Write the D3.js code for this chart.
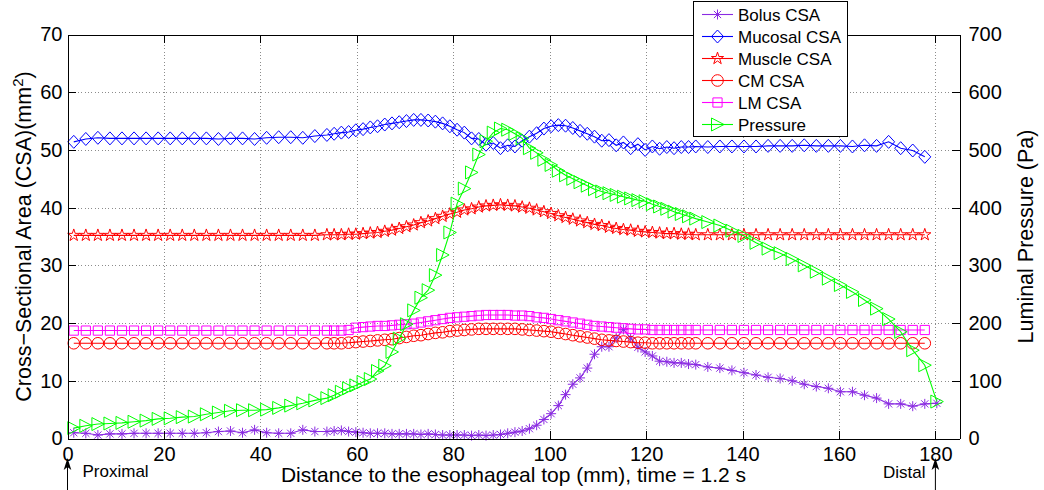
<!DOCTYPE html>
<html><head><meta charset="utf-8">
<script src="https://cdn.jsdelivr.net/npm/d3@7"></script>
<style>
body{margin:0;background:#fff;}
svg{display:block;font-family:"Liberation Sans",Arial,Helvetica,sans-serif;}
</style>
</head><body>
<svg id="chart" width="1044" height="490"></svg>
<script>
// ---------- DATA ----------
const distance = [1.3, 3.8, 6.3, 8.8, 11.3, 13.8, 16.3, 18.8, 21.3, 23.8, 26.3, 28.8, 31.3, 33.8, 36.3, 38.8, 41.3, 43.8, 46.3, 48.8, 51.3, 53.8,
  55.3, 56.8, 58.3, 59.8, 61.3, 62.8, 64.3, 65.8, 67.3, 68.8, 70.3, 71.8, 73.3, 74.8, 76.3, 77.8, 79.3, 80.8, 82.3, 83.8, 85.3, 86.8, 88.3, 89.8,
  91.3, 92.8, 94.3, 95.8, 97.3, 98.8, 100.3, 101.8, 103.3, 104.8, 106.3, 107.8, 109.3, 110.8, 112.3, 113.8, 115.3, 116.8, 118.3, 119.8, 121.3,
  122.8, 124.3, 125.8, 127.3, 128.8, 130.3,
  132.8, 135.3, 137.8, 140.3, 142.8, 145.3, 147.8, 150.3, 152.8, 155.3, 157.8, 160.3, 162.8, 165.3, 167.8, 170.3, 172.8, 175.3, 177.8];
const distanceEnd = [180.3]; // extra node for bolus and pressure

const mucosalCSA = [51.4, 51.9, 52.1, 52.0, 52.0, 52.0, 52.0, 52.0, 52.0, 52.0, 52.0, 52.0, 51.9, 52.0, 52.0, 51.9, 52.1, 52.2, 52.2, 52.1, 52.4, 52.6,
  52.8, 53.0, 53.1, 53.4, 53.6, 53.9, 54.1, 54.4, 54.6, 54.8, 55.0, 55.2, 55.2, 55.1, 54.9, 54.6, 54.1, 53.5, 53.0, 52.0, 51.9, 50.9, 51.2, 50.3,
  50.8, 50.6, 51.6, 52.3, 52.9, 53.7, 54.1, 54.3, 54.2, 53.8, 53.3, 52.8, 52.3, 51.6, 51.7, 50.8, 51.3, 50.3, 51.0, 50.0, 50.6,
  50.2, 50.5, 50.3, 50.5, 50.5, 50.6,
  50.5, 50.6, 50.6, 50.6, 50.6, 50.7, 50.7, 50.7, 50.8, 50.7, 50.7, 50.7, 50.6, 50.8, 50.7, 51.4, 50.3, 49.9, 48.8];

const muscleCSA = [35.2, 35.2, 35.2, 35.2, 35.2, 35.2, 35.2, 35.2, 35.2, 35.2, 35.2, 35.2, 35.2, 35.2, 35.2, 35.2, 35.2, 35.2, 35.2, 35.2, 35.2, 35.3,
  35.3, 35.3, 35.4, 35.4, 35.5, 35.6, 35.7, 35.9, 36.1, 36.4, 36.7, 37.0, 37.4, 37.7, 38.1, 38.5, 38.9, 39.2, 39.6, 39.8, 40.1, 40.3, 40.4, 40.5,
  40.4, 40.3, 40.1, 39.9, 39.6, 39.3, 39.0, 38.6, 38.3, 38.0, 37.7, 37.4, 37.1, 36.9, 36.6, 36.4, 36.2, 36.1, 35.9, 35.8, 35.7,
  35.6, 35.5, 35.5, 35.4, 35.4, 35.3,
  35.3, 35.3, 35.3, 35.3, 35.3, 35.3, 35.3, 35.3, 35.3, 35.3, 35.3, 35.3, 35.3, 35.3, 35.3, 35.3, 35.3, 35.3, 35.3];

const cmCSA = [16.5, 16.5, 16.5, 16.5, 16.5, 16.5, 16.5, 16.5, 16.5, 16.5, 16.5, 16.5, 16.5, 16.5, 16.5, 16.5, 16.5, 16.5, 16.5, 16.5, 16.5, 16.5,
  16.5, 16.5, 16.6, 16.7, 16.8, 16.9, 17.0, 17.1, 17.2, 17.4, 17.6, 17.8, 17.9, 18.1, 18.3, 18.4, 18.6, 18.7, 18.8, 18.9, 19.0, 19.0, 19.0, 19.0,
  19.0, 19.0, 18.9, 18.8, 18.7, 18.6, 18.5, 18.3, 18.1, 17.9, 17.7, 17.5, 17.3, 17.1, 17.0, 16.9, 16.8, 16.7, 16.6, 16.6, 16.5,
  16.5, 16.5, 16.5, 16.5, 16.5, 16.5,
  16.5, 16.5, 16.5, 16.5, 16.5, 16.5, 16.5, 16.5, 16.5, 16.5, 16.5, 16.5, 16.5, 16.5, 16.5, 16.5, 16.5, 16.5, 16.5];

const lmCSA = [18.7, 18.7, 18.7, 18.7, 18.7, 18.7, 18.7, 18.7, 18.7, 18.7, 18.7, 18.7, 18.7, 18.7, 18.7, 18.7, 18.7, 18.7, 18.7, 18.7, 18.7, 18.7,
  18.7, 18.7, 18.8, 19.2, 19.3, 19.4, 19.5, 19.5, 19.6, 19.7, 19.8, 19.9, 20.1, 20.3, 20.5, 20.7, 20.9, 21.0, 21.1, 21.2, 21.3, 21.4, 21.4, 21.4,
  21.4, 21.3, 21.3, 21.2, 21.0, 20.9, 20.7, 20.5, 20.3, 20.1, 19.9, 19.7, 19.5, 19.4, 19.3, 19.2, 19.1, 19.0, 18.9, 18.9, 18.8,
  18.8, 18.8, 18.8, 18.8, 18.8, 18.8,
  18.8, 18.8, 18.8, 18.8, 18.8, 18.8, 18.8, 18.8, 18.8, 18.8, 18.8, 18.8, 18.8, 18.8, 18.8, 18.8, 18.8, 18.8, 18.8];

const bolusCSA = [1.0, 0.9, 0.6, 0.8, 0.8, 0.9, 0.9, 0.9, 0.9, 0.9, 0.9, 1.0, 1.2, 1.3, 1.0, 1.5, 1.0, 0.9, 0.9, 1.5, 1.2, 1.2,
  1.3, 1.4, 1.2, 1.1, 1.0, 0.9, 0.9, 0.9, 0.8, 0.8, 0.8, 0.8, 0.7, 0.8, 0.7, 0.6, 0.6, 0.6, 0.6, 0.5, 0.6, 0.5, 0.6, 0.7,
  0.9, 1.1, 1.3, 1.7, 2.3, 3.3, 4.3, 5.7, 7.6, 9.4, 10.5, 12.2, 14.6, 15.9, 15.9, 17.4, 18.9, 17.4, 15.8, 15.0, 14.3,
  13.4, 13.3, 13.1, 13.1, 12.9, 12.8,
  12.4, 12.2, 11.8, 11.4, 11.0, 10.6, 10.4, 10.0, 9.4, 9.0, 8.7, 8.1, 8.1, 7.5, 7.0, 6.0, 6.0, 5.6, 6.0, 6.1];

const pressure = [18, 22, 25, 26, 27, 29, 31, 34, 35, 37, 38, 42, 45, 48, 49, 49, 50, 53, 57, 61, 66, 70,
  75, 81, 87, 92, 98, 103, 117, 126, 150, 173, 198, 222, 244, 257, 283, 318, 357, 407, 433, 461, 492, 515, 530, 537,
  535, 528, 520, 503, 495, 483, 474, 464, 456, 450, 444, 438, 432, 428, 425, 422, 419, 416, 413, 411, 406,
  402, 398, 393, 389, 385, 381,
  375, 369, 360, 351, 339, 329, 321, 311, 300, 289, 277, 266, 254, 240, 225, 207, 185, 153, 127, 64];

const xTicks = [0, 20, 40, 60, 80, 100, 120, 140, 160, 180];
const yTicksLeft = [0, 10, 20, 30, 40, 50, 60, 70];
const yTicksRight = [0, 100, 200, 300, 400, 500, 600, 700];
const seriesNames = ["Bolus CSA", "Mucosal CSA", "Muscle CSA", "CM CSA", "LM CSA", "Pressure"];

// ---------- LAYOUT ----------
const L = 67.5, R = 959.5, T = 34.5, B = 438.5;
const x = d3.scaleLinear().domain([0, 185]).range([L, R]);
const yL = d3.scaleLinear().domain([0, 70]).range([B, T]);
const yR = d3.scaleLinear().domain([0, 700]).range([B, T]);

const svg = d3.select("#chart");
svg.append("rect").attr("width", 1044).attr("height", 490).attr("fill", "#fff");

// grid
const grid = svg.append("g").attr("stroke", "#8c8c8c").attr("stroke-width", 1)
  .attr("stroke-dasharray", "1,2.4").attr("shape-rendering", "crispEdges");
grid.selectAll(".gx").data(xTicks.filter(d => d > 0)).join("line")
  .attr("x1", d => Math.round(x(d)) + 0.5).attr("x2", d => Math.round(x(d)) + 0.5)
  .attr("y1", T).attr("y2", B);
grid.selectAll(".gy").data(yTicksLeft.filter(d => d > 0 && d < 70)).join("line")
  .attr("y1", d => Math.round(yL(d)) + 0.5).attr("y2", d => Math.round(yL(d)) + 0.5)
  .attr("x1", L).attr("x2", R);

// markers
const markerPaths = {
  asterisk: "M-5,0L5,0M0,-5L0,5M-3.6,-3.6L3.6,3.6M-3.6,3.6L3.6,-3.6",
  diamond: "M0,-6.5L6,0L0,6.5L-6,0Z",
  star: d3.symbol(d3.symbolStar, 46)(),
  circle: d3.symbol(d3.symbolCircle, Math.PI * 5.8 * 5.8)(),
  square: "M-4.6,-4.6L4.6,-4.6L4.6,4.6L-4.6,4.6Z",
  triangle: "M-6,-6.5L6.5,0L-6,6.5Z"
};

const series = [
  {name: seriesNames[0], xs: distance.concat(distanceEnd), ys: bolusCSA, y: yL, color: "#8a2be2", marker: "asterisk"},
  {name: seriesNames[1], xs: distance, ys: mucosalCSA, y: yL, color: "#0000ff", marker: "diamond"},
  {name: seriesNames[2], xs: distance, ys: muscleCSA, y: yL, color: "#ff0000", marker: "star"},
  {name: seriesNames[3], xs: distance, ys: cmCSA, y: yL, color: "#ff0000", marker: "circle"},
  {name: seriesNames[4], xs: distance, ys: lmCSA, y: yL, color: "#ff00ff", marker: "square"},
  {name: seriesNames[5], xs: distance.concat(distanceEnd), ys: pressure, y: yR, color: "#00ff00", marker: "triangle"}
];

const plot = svg.append("g");
series.forEach(s => {
  const pts = s.ys.map((v, i) => [s.xs[i], v]);
  const g = plot.append("g");
  g.append("path").datum(pts)
    .attr("fill", "none").attr("stroke", s.color).attr("stroke-width", 1.1)
    .attr("d", d3.line().x(d => x(d[0])).y(d => s.y(d[1])));
  g.selectAll("path.m").data(pts).join("path").attr("class", "m")
    .attr("d", markerPaths[s.marker])
    .attr("transform", d => `translate(${x(d[0])},${s.y(d[1])})`)
    .attr("fill", "none").attr("stroke", s.color).attr("stroke-width", 1);
});

// axes
const axisFont = 20;
function styleAxis(g) {
  g.selectAll("path.domain").attr("stroke", "#000").attr("stroke-width", 1);
  g.selectAll(".tick line").attr("stroke", "#000");
  g.selectAll("text").attr("font-size", axisFont).attr("fill", "#000")
    .attr("font-family", "'Liberation Sans', Arial, sans-serif");
  g.attr("shape-rendering", "crispEdges");
}
svg.append("g").attr("transform", `translate(0,${B})`)
  .call(d3.axisBottom(x).tickValues(xTicks).tickSize(-8).tickSizeOuter(0).tickPadding(8))
  .call(styleAxis);
svg.append("g").attr("transform", `translate(0,${T})`)
  .call(d3.axisTop(x).tickValues(xTicks).tickSize(-8).tickSizeOuter(0).tickFormat(""))
  .call(styleAxis);
svg.append("g").attr("transform", `translate(${L},0)`)
  .call(d3.axisLeft(yL).tickValues(yTicksLeft).tickSize(-8).tickSizeOuter(0).tickPadding(5))
  .call(styleAxis);
svg.append("g").attr("transform", `translate(${R},0)`)
  .call(d3.axisRight(yR).tickValues(yTicksRight).tickSize(-8).tickSizeOuter(0).tickPadding(9))
  .call(styleAxis);

// axis labels
svg.append("text").attr("x", (L + R) / 2).attr("y", 482).attr("text-anchor", "middle")
  .attr("font-size", 21).text("Distance to the esophageal top (mm), time = 1.2 s");
const yl = svg.append("text").attr("transform", `translate(31,${(T + B) / 2}) rotate(-90)`)
  .attr("text-anchor", "middle").attr("font-size", 21.5);
yl.append("tspan").text("Cross\u2212Sectional Area (CSA)(mm");
yl.append("tspan").attr("font-size", 15).attr("dy", -8).text("2");
yl.append("tspan").attr("dy", 8).text(")");
svg.append("text").attr("transform", `translate(1033,${(T + B) / 2}) rotate(-90)`)
  .attr("text-anchor", "middle").attr("font-size", 21.5).text("Luminal Pressure (Pa)");

// proximal / distal annotations
function arrow(px) {
  svg.append("line").attr("x1", px).attr("x2", px).attr("y1", 466).attr("y2", 490)
    .attr("stroke", "#000").attr("stroke-width", 1);
  svg.append("path").attr("d", `M${px},458L${px + 3.8},470L${px},467L${px - 3.8},470Z`).attr("fill", "#000");
}
arrow(x(0));
arrow(x(180));
svg.append("text").attr("x", 82.5).attr("y", 477).attr("font-size", 17).text("Proximal");
svg.append("text").attr("x", 883).attr("y", 478).attr("font-size", 17).text("Distal");

// legend
const lg = svg.append("g");
lg.append("rect").attr("x", 693.5).attr("y", 1.5).attr("width", 154).attr("height", 135)
  .attr("fill", "#fff").attr("stroke", "#000").attr("stroke-width", 1).attr("shape-rendering", "crispEdges");
series.forEach((s, i) => {
  const yy = 14.5 + i * 22;
  lg.append("line").attr("x1", 702).attr("x2", 733).attr("y1", yy).attr("y2", yy)
    .attr("stroke", s.color).attr("stroke-width", 1.1);
  lg.append("path").attr("d", markerPaths[s.marker]).attr("transform", `translate(717.5,${yy})`)
    .attr("fill", "none").attr("stroke", s.color);
  lg.append("text").attr("x", 738).attr("y", yy).attr("dy", "0.36em").attr("font-size", 17).text(s.name);
});
</script>
</body></html>
